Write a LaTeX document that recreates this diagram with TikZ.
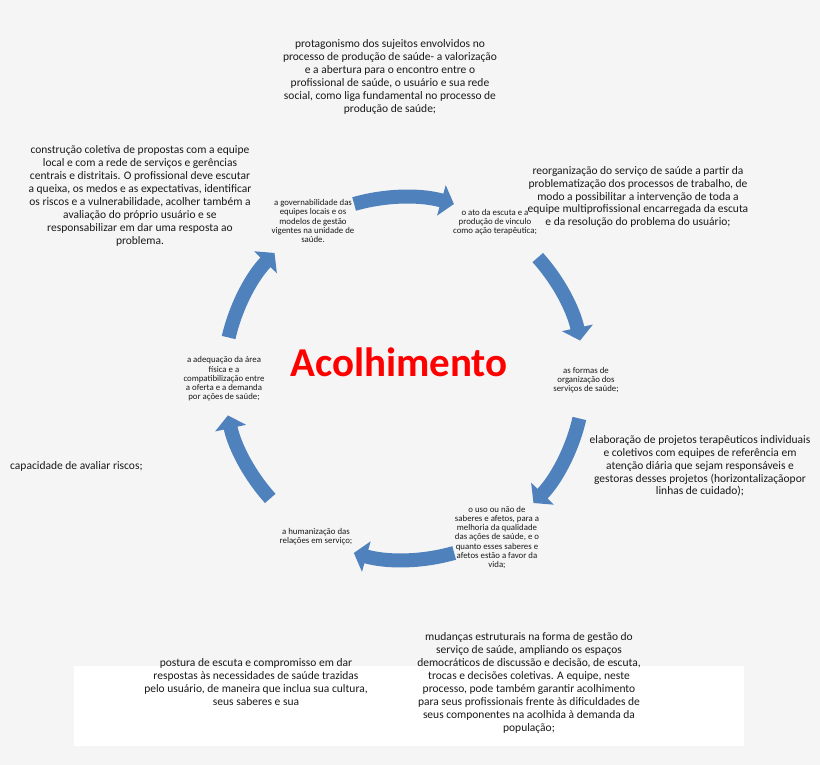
\documentclass[tikz,border=0pt]{standalone}
\usepackage{fontspec}
\setmainfont{Carlito}
\usetikzlibrary{arrows.meta,calc}
\definecolor{bgcol}{HTML}{F5F5F5}
\definecolor{arrowblue}{HTML}{4F81BD}
\definecolor{titlered}{HTML}{FF0000}
\definecolor{txt}{HTML}{1A1A1A}
\begin{document}
\begin{tikzpicture}[x=1pt,y=1pt,
  bigtxt/.style={align=center, font=\fontsize{11.5}{12.9}\selectfont, text=txt, inner sep=0pt},
  smalltxt/.style={align=center, font=\fontsize{8.8}{9.2}\selectfont, text=txt, inner sep=0pt},
  cyc/.style={draw=arrowblue, line width=14pt, -{Triangle[width=31pt,length=13pt]}}]
\useasboundingbox (0,0) rectangle (820,765);
\fill[bgcol] (0,0) rectangle (820,765);
\fill[white] (74,19) rectangle (744,99);
\coordinate (ctr) at (404,387);
% cycle arrows
\draw[cyc] ($(ctr)+(106:181)$) coordinate (a1s) arc[start angle=106, end angle=74, radius=181] coordinate (a1e);
\draw[cyc] ($(ctr)+(42:180)$) coordinate (a2s) arc[start angle=42, end angle=12, radius=180] coordinate (a2e);
\draw[cyc] ($(ctr)+(-13:180)$) coordinate (a3s) arc[start angle=-13, end angle=-44, radius=180] coordinate (a3e);
\draw[cyc] ($(ctr)+(-74:182)$) coordinate (a4s) arc[start angle=-74, end angle=-106, radius=182] coordinate (a4e);
\draw[cyc] ($(ctr)+(-138:180)$) coordinate (a5s) arc[start angle=-138, end angle=-168, radius=180] coordinate (a5e);
\draw[cyc] ($(ctr)+(167:180)$) coordinate (a6s) arc[start angle=167, end angle=136, radius=180] coordinate (a6e);
% title
\node[anchor=base, font=\fontsize{41}{45}\selectfont\bfseries, text=titlered, inner sep=0pt] (title) at (399,388) {Acolhimento};
% cycle labels
\node[smalltxt] (n1) at (313,544) {a governabilidade das\\equipes locais e os\\modelos de gestão\\vigentes na unidade de\\saúde.};
\node[smalltxt] (n2) at (495,543) {o ato da escuta e a\\produção de vinculo\\como ação terapêutica;};
\node[smalltxt] (n3) at (586,385) {as formas de\\organização dos\\serviços de saúde;};
\node[smalltxt] (n4) at (224,386) {a adequação da área\\física e a\\compatibilização entre\\a oferta e a demanda\\por ações de saúde;};
\node[smalltxt] (n5) at (497,227.5) {o uso ou não de\\saberes e afetos, para a\\melhoria da qualidade\\das ações de saúde, e o\\quanto esses saberes e\\afetos estão a favor da\\vida;};
\node[smalltxt] (n6) at (316,228) {a humanização das\\relações em serviço;};
% outer texts
\node[bigtxt] (t1) at (390,688) {protagonismo dos sujeitos envolvidos no\\processo de produção de saúde- a valorização\\e a abertura para o encontro entre o\\profissional de saúde, o usuário e sua rede\\social, como liga fundamental no processo de\\produção de saúde;};
\node[bigtxt] (t2) at (140,569) {construção coletiva de propostas com a equipe\\local e com a rede de serviços e gerências\\centrais e distritais. O profissional deve escutar\\a queixa, os medos e as expectativas, identificar\\os riscos e a vulnerabilidade, acolher também a\\avaliação do próprio usuário e se\\responsabilizar em dar uma resposta ao\\problema.};
\node[bigtxt] (t3) at (638,568) {reorganização do serviço de saúde a partir da\\problematização dos processos de trabalho, de\\modo a possibilitar a intervenção de toda a\\equipe multiprofissional encarregada da escuta\\e da resolução do problema do usuário;};
\node[bigtxt] (t4) at (700,299) {elaboração de projetos terapêuticos individuais\\e coletivos com equipes de referência em\\atenção diária que sejam responsáveis e\\gestoras desses projetos (horizontalizaçãopor\\linhas de cuidado);};
\node[bigtxt, anchor=west] (t5) at (10,299) {capacidade de avaliar riscos;};
\node[bigtxt] (t6) at (256,83) {postura de escuta e compromisso em dar\\respostas às necessidades de saúde trazidas\\pelo usuário, de maneira que inclua sua cultura,\\seus saberes e sua};
\node[bigtxt] (t7) at (529,82) {mudanças estruturais na forma de gestão do\\serviço de saúde, ampliando os espaços\\democráticos de discussão e decisão, de escuta,\\trocas e decisões coletivas. A equipe, neste\\processo, pode também garantir acolhimento\\para seus profissionais frente às dificuldades de\\seus componentes na acolhida à demanda da\\população;};
\end{tikzpicture}
\end{document}
